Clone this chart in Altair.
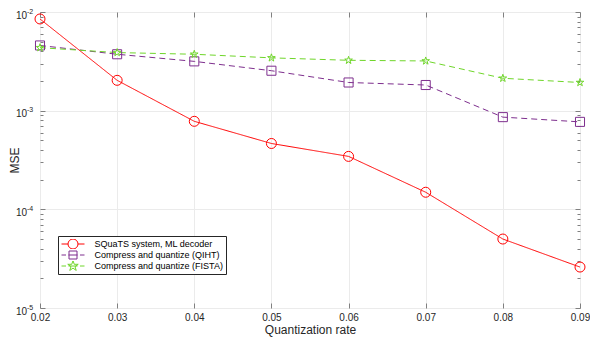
import altair as alt
import pandas as pd

# ---------------- data ----------------
rates = [0.02, 0.03, 0.04, 0.05, 0.06, 0.07, 0.08, 0.09]
series = [
    "SQuaTS system, ML decoder",
    "Compress and quantize (QIHT)",
    "Compress and quantize (FISTA)",
]
mse_squats = [8.5e-3, 2.03e-3, 7.8e-4, 4.65e-4, 3.44e-4, 1.49e-4, 5.0e-5, 2.6e-5]
mse_qiht = [4.58e-3, 3.73e-3, 3.16e-3, 2.54e-3, 1.93e-3, 1.82e-3, 8.6e-4, 7.7e-4]
mse_fista = [4.35e-3, 3.88e-3, 3.73e-3, 3.43e-3, 3.24e-3, 3.19e-3, 2.13e-3, 1.93e-3]
colors = ["#ff0000", "#7e2f8e", "#6fd62a"]
major_y = [1e-5, 1e-4, 1e-3, 1e-2]
minor_y = [k * 10.0 ** e for e in (-5, -4, -3) for k in range(2, 10)]

rows = []
for name, vals in zip(series, [mse_squats, mse_qiht, mse_fista]):
    for r, v in zip(rates, vals):
        rows.append({"rate": r, "mse": v, "series": name})
df = pd.DataFrame(rows)

# ---------------- style ----------------
W, H = 540, 296
FONT = "Liberation Sans"
TXT = "#262626"
FRAME = "#808080"
GRID = "#ebebeb"

xs = alt.Scale(domain=[0.02, 0.09], nice=False, zero=False)
ys = alt.Scale(type="log", domain=[1e-5, 1e-2], nice=False)

STAR = ("M0,-1L0.2245,-0.309L0.951,-0.309L0.363,0.118L0.588,0.809L0,0.382"
        "L-0.588,0.809L-0.363,0.118L-0.951,-0.309L-0.2245,-0.309Z")
STAR_L = ("M0,-1.1L0.247,-0.34L1.046,-0.34L0.4,0.13L0.647,0.89L0,0.42"
          "L-0.647,0.89L-0.4,0.13L-1.046,-0.34L-0.247,-0.34Z")
LEG_CIRCLE = "M-2.3,0H-1M1,0H2.3M1,0A1,1,0,1,1,-1,0A1,1,0,1,1,1,0Z"
LEG_SQUARE = "M-2.3,0H-1.4M-0.9,0H0.9M1.4,0H2.3M-0.8,-0.8H0.8V0.8H-0.8Z"
LEG_STAR = "M-2.3,0H-1.4M-0.9,0H0.9M1.4,0H2.3" + STAR_L


def guide(x_axis, y_axis):
    return alt.Chart(df).transform_filter("false").mark_point(opacity=0).encode(
        x=alt.X("rate:Q", scale=xs, axis=x_axis),
        y=alt.Y("mse:Q", scale=ys, axis=y_axis),
    )


def tick_axis(orient, values, size, offset):
    return alt.Axis(orient=orient, values=values, tickSize=size, tickColor=FRAME,
                    tickWidth=1, offset=offset, labels=False, grid=False,
                    domain=False, title="")


# labels + grid
x_lab = alt.Axis(orient="bottom", values=rates, format=".2f", ticks=False, tickSize=0,
                 domain=False, grid=True, gridColor=GRID, gridWidth=1,
                 labelFontSize=10, labelColor=TXT, labelFont=FONT, labelPadding=4,
                 labelFlush=False, labelOverlap=False, labelBaseline="top",
                 title="Quantization rate", titleFontSize=12, titleFontWeight="normal",
                 titleColor=TXT, titleFont=FONT, titlePadding=2)
y_lab = alt.Axis(orient="left", values=major_y, labelExpr="'10'", ticks=False,
                 tickSize=0, domain=False, grid=True, gridColor=GRID, gridWidth=1,
                 labelFontSize=10, labelColor=TXT, labelFont=FONT, labelPadding=13.5,
                 labelBaseline="alphabetic", labelOffset=6, labelOverlap=False,
                 title="MSE", titleFontSize=12, titleFontWeight="normal",
                 titleColor=TXT, titleFont=FONT, titleX=-22, titleY=H / 2,
                 titleAngle=270, titleBaseline="alphabetic", titleAlign="center")
y_sup = alt.Axis(orient="left", values=major_y,
                 labelExpr="'-' + round(-log(datum.value) / LN10)", ticks=False,
                 tickSize=0, domain=False, grid=False, labelFontSize=7,
                 labelColor=TXT, labelFont=FONT, labelPadding=13.5, labelAlign="left",
                 labelBaseline="alphabetic", labelOffset=1, labelOverlap=False, title="")

layers = [
    guide(x_lab, y_lab),
    guide(None, y_sup),
    guide(tick_axis("top", rates, 5, -H), tick_axis("right", major_y, 5, -W)),
    guide(tick_axis("bottom", rates, 5, -H), tick_axis("left", major_y, 5, -W)),
    guide(None, tick_axis("right", minor_y, 3, -W)),
    guide(None, tick_axis("left", minor_y, 3, -W)),
]

lines = alt.Chart(df).mark_line(strokeWidth=1).encode(
    x=alt.X("rate:Q", scale=xs, axis=None),
    y=alt.Y("mse:Q", scale=ys, axis=None),
    color=alt.Color("series:N", scale=alt.Scale(domain=series, range=colors), legend=None),
    strokeDash=alt.StrokeDash("series:N",
                              scale=alt.Scale(domain=series, range=[[1, 0], [6, 4], [6, 4]]),
                              legend=None),
)

points = alt.Chart(df).mark_point(filled=False, strokeWidth=1, opacity=1).encode(
    x=alt.X("rate:Q", scale=xs, axis=None),
    y=alt.Y("mse:Q", scale=ys, axis=None),
    color=alt.Color("series:N", scale=alt.Scale(domain=series, range=colors), legend=None),
    shape=alt.Shape("series:N", scale=alt.Scale(domain=series, range=["circle", "square", STAR]),
                    legend=None),
    size=alt.Size("series:N", scale=alt.Scale(domain=series, range=[100, 64, 130]), legend=None),
)

leg = alt.Legend(orient="none", legendX=18, legendY=224, title=None, fillColor="white",
                 strokeColor="#262626", padding=3, rowPadding=1, cornerRadius=0,
                 clipHeight=10,
                 labelFont=FONT, labelFontSize=9, labelColor="#000000", labelLimit=300,
                 symbolOffset=6.5, labelOffset=16, symbolStrokeWidth=1, symbolSize=100,
                 symbolFillColor="transparent")

legend_layer = alt.Chart(df).transform_filter("false").mark_point(
    filled=False, strokeWidth=1, size=100, opacity=1).encode(
    x=alt.X("rate:Q", scale=xs, axis=None),
    y=alt.Y("mse:Q", scale=ys, axis=None),
    color=alt.Color("series:N", scale=alt.Scale(domain=series, range=colors), legend=leg),
    shape=alt.Shape("series:N",
                    scale=alt.Scale(domain=series, range=[LEG_CIRCLE, LEG_SQUARE, LEG_STAR]),
                    legend=leg),
)

chart = alt.layer(*layers, lines, points, legend_layer).resolve_axis(
    x="independent", y="independent"
).resolve_scale(
    color="independent", shape="independent", size="independent", strokeDash="independent"
).properties(
    width=W, height=H,
    autosize=alt.AutoSizeParams(type="none"),
    padding={"left": 32, "top": 4, "right": 10, "bottom": 29},
).configure_view(
    stroke=FRAME, strokeWidth=1
).configure(font=FONT)

chart.save("out.html", embed_options={"renderer": "svg", "actions": False})
